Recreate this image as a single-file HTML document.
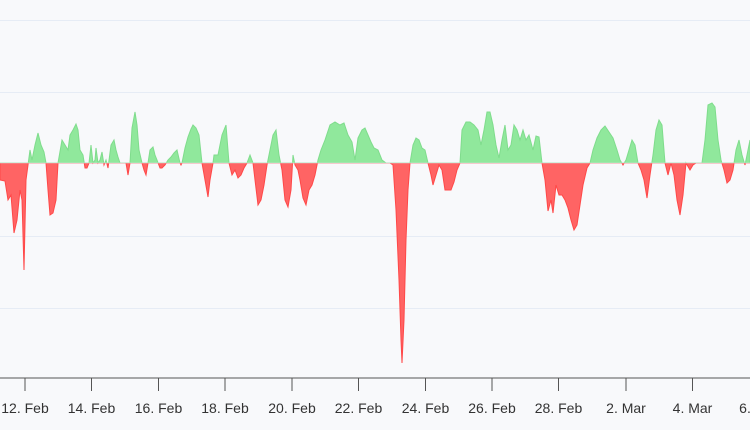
<!DOCTYPE html>
<html><head><meta charset="utf-8"><style>
html,body{margin:0;padding:0;background:#f8f9fb;}
svg{display:block;font-family:"Liberation Sans","DejaVu Sans",sans-serif;}
</style></head><body>
<svg width="750" height="430" viewBox="0 0 750 430">
<rect width="750" height="430" fill="#f8f9fb"/>
<g stroke="#e6ecf5" stroke-width="1">
<line x1="0" x2="750" y1="20.5" y2="20.5"/>
<line x1="0" x2="750" y1="92.5" y2="92.5"/>
<line x1="0" x2="750" y1="236.5" y2="236.5"/>
<line x1="0" x2="750" y1="308.5" y2="308.5"/>
</g>
<defs>
<clipPath id="top"><rect x="0" y="0" width="750" height="163"/></clipPath>
<clipPath id="bot"><rect x="0" y="163" width="750" height="267"/></clipPath>
<path id="d" d="M0,163 L0,180 5,181 8,200 11,195 14,233 17,220 20,190 22,200 24,270 26,180 30,150 32,160 35,145 38,133 41,145 44,152 46,163 48,190 50,215 53,213 56,200 58,163 62,140 65,145 68,150 70,135 73,130 76,124 78,130 80,150 83,155 85,168 87,168 89,163 91,145 93,163 95,160 96,148 98,163 100,160 102,152 104,165 106,160 108,168 111,145 114,140 116,150 118,157 120,163 126,163 128,175 130,163 132,128 135,112 137,125 139,150 142,163 144,170 146,175 148,163 150,150 153,147 155,155 157,160 160,168 162,168 165,165 168,160 171,157 174,153 177,150 180,163 181,165 182,163 185,148 188,137 191,129 193,125 196,128 199,135 202,163 205,180 208,197 210,180 213,163 214,155 218,155 222,135 226,125 229,163 232,175 235,170 238,178 241,175 244,168 247,163 250,155 253,163 255,180 258,205 261,200 264,185 267,165 270,150 273,135 276,130 279,155 282,170 285,200 288,207 291,190 293,155 295,165 298,170 300,180 303,198 306,205 309,190 312,185 315,175 318,160 321,150 325,140 330,125 335,122 340,125 344,123 348,135 352,142 355,160 358,138 362,130 365,128 368,135 371,142 374,148 378,150 382,160 386,163 390,163 393,165 396,210 399,280 401,340 402,363 404,320 406,240 408,190 410,163 413,145 416,138 419,140 422,148 425,150 428,163 431,175 433,185 436,175 439,165 442,170 445,190 448,190 451,190 454,182 457,170 460,163 462,130 466,122 470,122 474,125 478,130 481,145 484,130 487,112 490,112 493,125 496,145 499,158 502,140 505,125 508,150 511,145 514,125 517,130 520,140 523,130 526,140 529,135 533,150 536,136 539,137 542,163 545,180 548,211 551,200 553,213 556,185 559,195 562,195 565,200 568,208 571,220 574,230 577,225 580,205 583,185 587,168 590,163 593,150 597,138 601,130 605,126 609,132 613,138 617,150 620,160 623,165 626,160 629,150 632,140 635,145 638,163 641,170 644,180 647,198 650,175 653,155 656,130 659,120 662,125 665,163 668,175 671,163 674,175 677,200 680,215 683,195 686,163 690,170 693,165 696,163 699,163 702,163 705,140 708,105 712,103 715,107 718,140 721,160 724,170 727,183 730,180 733,170 736,150 739,140 742,155 745,165 748,150 750,140 L750,163 Z"/>
</defs>
<use href="#d" clip-path="url(#top)" fill="#90e89c" stroke="#7fdc8c" stroke-width="1"/>
<use href="#d" clip-path="url(#bot)" fill="#ff6464" stroke="#ff4848" stroke-width="1"/>
<line x1="0" x2="750" y1="163" y2="163" stroke="#e6ecf5" stroke-width="0.5"/>
<line x1="0" x2="750" y1="378" y2="378" stroke="#555" stroke-width="1"/>
<g stroke="#555" stroke-width="1">
<line x1="25" x2="25" y1="378" y2="391"/>
<line x1="91.5" x2="91.5" y1="378" y2="391"/>
<line x1="158.5" x2="158.5" y1="378" y2="391"/>
<line x1="225" x2="225" y1="378" y2="391"/>
<line x1="292" x2="292" y1="378" y2="391"/>
<line x1="358.5" x2="358.5" y1="378" y2="391"/>
<line x1="425.5" x2="425.5" y1="378" y2="391"/>
<line x1="492" x2="492" y1="378" y2="391"/>
<line x1="558.5" x2="558.5" y1="378" y2="391"/>
<line x1="626" x2="626" y1="378" y2="391"/>
<line x1="692.5" x2="692.5" y1="378" y2="391"/>
</g>
<g fill="#333" font-size="14" text-anchor="middle">
<text x="25" y="413">12. Feb</text>
<text x="91.5" y="413">14. Feb</text>
<text x="158.5" y="413">16. Feb</text>
<text x="225" y="413">18. Feb</text>
<text x="292" y="413">20. Feb</text>
<text x="358.5" y="413">22. Feb</text>
<text x="425.5" y="413">24. Feb</text>
<text x="492" y="413">26. Feb</text>
<text x="558.5" y="413">28. Feb</text>
<text x="626" y="413">2. Mar</text>
<text x="692.5" y="413">4. Mar</text>
<text x="759" y="413">6. Mar</text>
</g>
</svg>
</body></html>
